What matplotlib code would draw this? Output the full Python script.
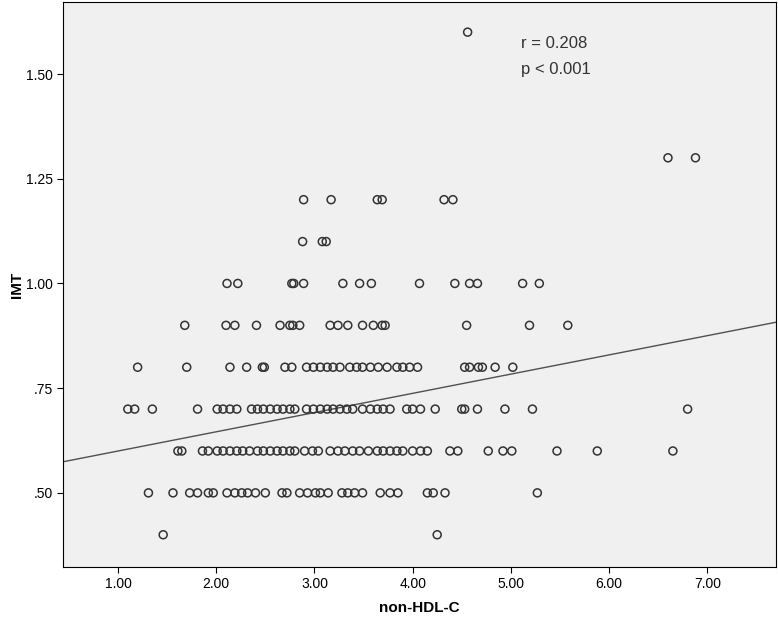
import matplotlib
matplotlib.use("Agg")
import matplotlib.pyplot as plt

plt.rcParams['font.family'] = ['Liberation Sans', 'DejaVu Sans']

# valores: non-HDL-C por cada nivel de IMT
imt_040 = [1.46, 4.25]
imt_050 = [1.31, 1.56, 1.73, 1.81, 1.92, 1.97, 2.11, 2.19, 2.26, 2.32, 2.40, 2.50,
           2.67, 2.72, 2.85, 2.93, 3.01, 3.06, 3.14, 3.28, 3.34, 3.41, 3.49, 3.67,
           3.77, 3.85, 4.15, 4.21, 4.33, 5.27]
imt_060 = [1.61, 1.65, 1.86, 1.92, 2.01, 2.07, 2.14, 2.21, 2.27, 2.34, 2.42, 2.48,
           2.55, 2.62, 2.68, 2.75, 2.80, 2.90, 2.98, 3.04, 3.16, 3.24, 3.31, 3.39,
           3.46, 3.55, 3.64, 3.70, 3.77, 3.84, 3.90, 4.00, 4.08, 4.15, 4.38, 4.46,
           4.77, 4.92, 5.01, 5.47, 5.88, 6.65]
imt_070 = [1.10, 1.17, 1.35, 1.81, 2.01, 2.07, 2.14, 2.21, 2.36, 2.42, 2.48, 2.55,
           2.62, 2.68, 2.75, 2.80, 2.92, 2.99, 3.06, 3.13, 3.19, 3.26, 3.33, 3.39,
           3.49, 3.57, 3.64, 3.70, 3.77, 3.94, 4.00, 4.08, 4.23, 4.50, 4.53, 4.66,
           4.94, 5.22, 6.80]
imt_080 = [1.20, 1.70, 2.14, 2.31, 2.47, 2.49, 2.70, 2.77, 2.92, 2.99, 3.06, 3.13,
           3.19, 3.26, 3.36, 3.43, 3.49, 3.57, 3.65, 3.74, 3.84, 3.90, 3.97, 4.05,
           4.53, 4.58, 4.67, 4.71, 4.84, 5.02]
imt_090 = [1.68, 2.10, 2.19, 2.41, 2.65, 2.75, 2.78, 2.85, 3.16, 3.24, 3.34, 3.49,
           3.60, 3.69, 3.72, 4.55, 5.19, 5.58]
imt_100 = [2.11, 2.22, 2.77, 2.79, 2.89, 3.29, 3.46, 3.58, 4.07, 4.43, 4.58, 4.66,
           5.12, 5.29]
imt_110 = [2.88, 3.08, 3.12]
imt_120 = [2.89, 3.17, 3.64, 3.69, 4.32, 4.41]
imt_130 = [6.60, 6.88]
imt_160 = [4.56]

niveles = [0.40, 0.50, 0.60, 0.70, 0.80, 0.90, 1.00, 1.10, 1.20, 1.30, 1.60]
grupos = [imt_040, imt_050, imt_060, imt_070, imt_080, imt_090, imt_100,
          imt_110, imt_120, imt_130, imt_160]

# recta de regresion
intercepto = 0.554
pendiente = 0.0459

x_ticks = [1, 2, 3, 4, 5, 6, 7]
x_labels = ["1.00", "2.00", "3.00", "4.00", "5.00", "6.00", "7.00"]
y_ticks = [0.50, 0.75, 1.00, 1.25, 1.50]
y_labels = [".50", ".75", "1.00", "1.25", "1.50"]

x = []
y = []
for nivel, grupo in zip(niveles, grupos):
    for v in grupo:
        x.append(v)
        y.append(nivel)

fig = plt.figure(figsize=(7.78, 6.19), dpi=100)
ax = fig.add_axes([63/778, 1 - 567/619, (776-63)/778, (567-2)/619])
ax.set_facecolor("#f0f0f0")

ax.scatter(x, y, s=33, facecolors="none", edgecolors="#333333", linewidths=1.1, zorder=3)

xmin, xmax = 0.44, 7.70
ax.plot([xmin, xmax], [intercepto + pendiente*xmin, intercepto + pendiente*xmax],
        color="#505050", linewidth=1.0, zorder=2)

ax.set_xlim(xmin, xmax)
ax.set_ylim(0.323, 1.672)
ax.set_xticks(x_ticks)
ax.set_xticklabels(x_labels)
ax.set_yticks(y_ticks)
ax.set_yticklabels(y_labels)
ax.tick_params(labelsize=10, length=4, width=0.8, color="black")
for s in ax.spines.values():
    s.set_color("black")
    s.set_linewidth(0.8)

ax.set_xlabel("non-HDL-C", fontsize=11, fontweight="bold", labelpad=7)
ax.set_ylabel("IMT", fontsize=11, fontweight="bold", labelpad=1)

ax.text(5.10, 1.572, "r = 0.208", fontsize=12, color="#333333", va="center")
ax.text(5.10, 1.510, "p < 0.001", fontsize=12, color="#333333", va="center")

fig.savefig("out.png", dpi=100)
